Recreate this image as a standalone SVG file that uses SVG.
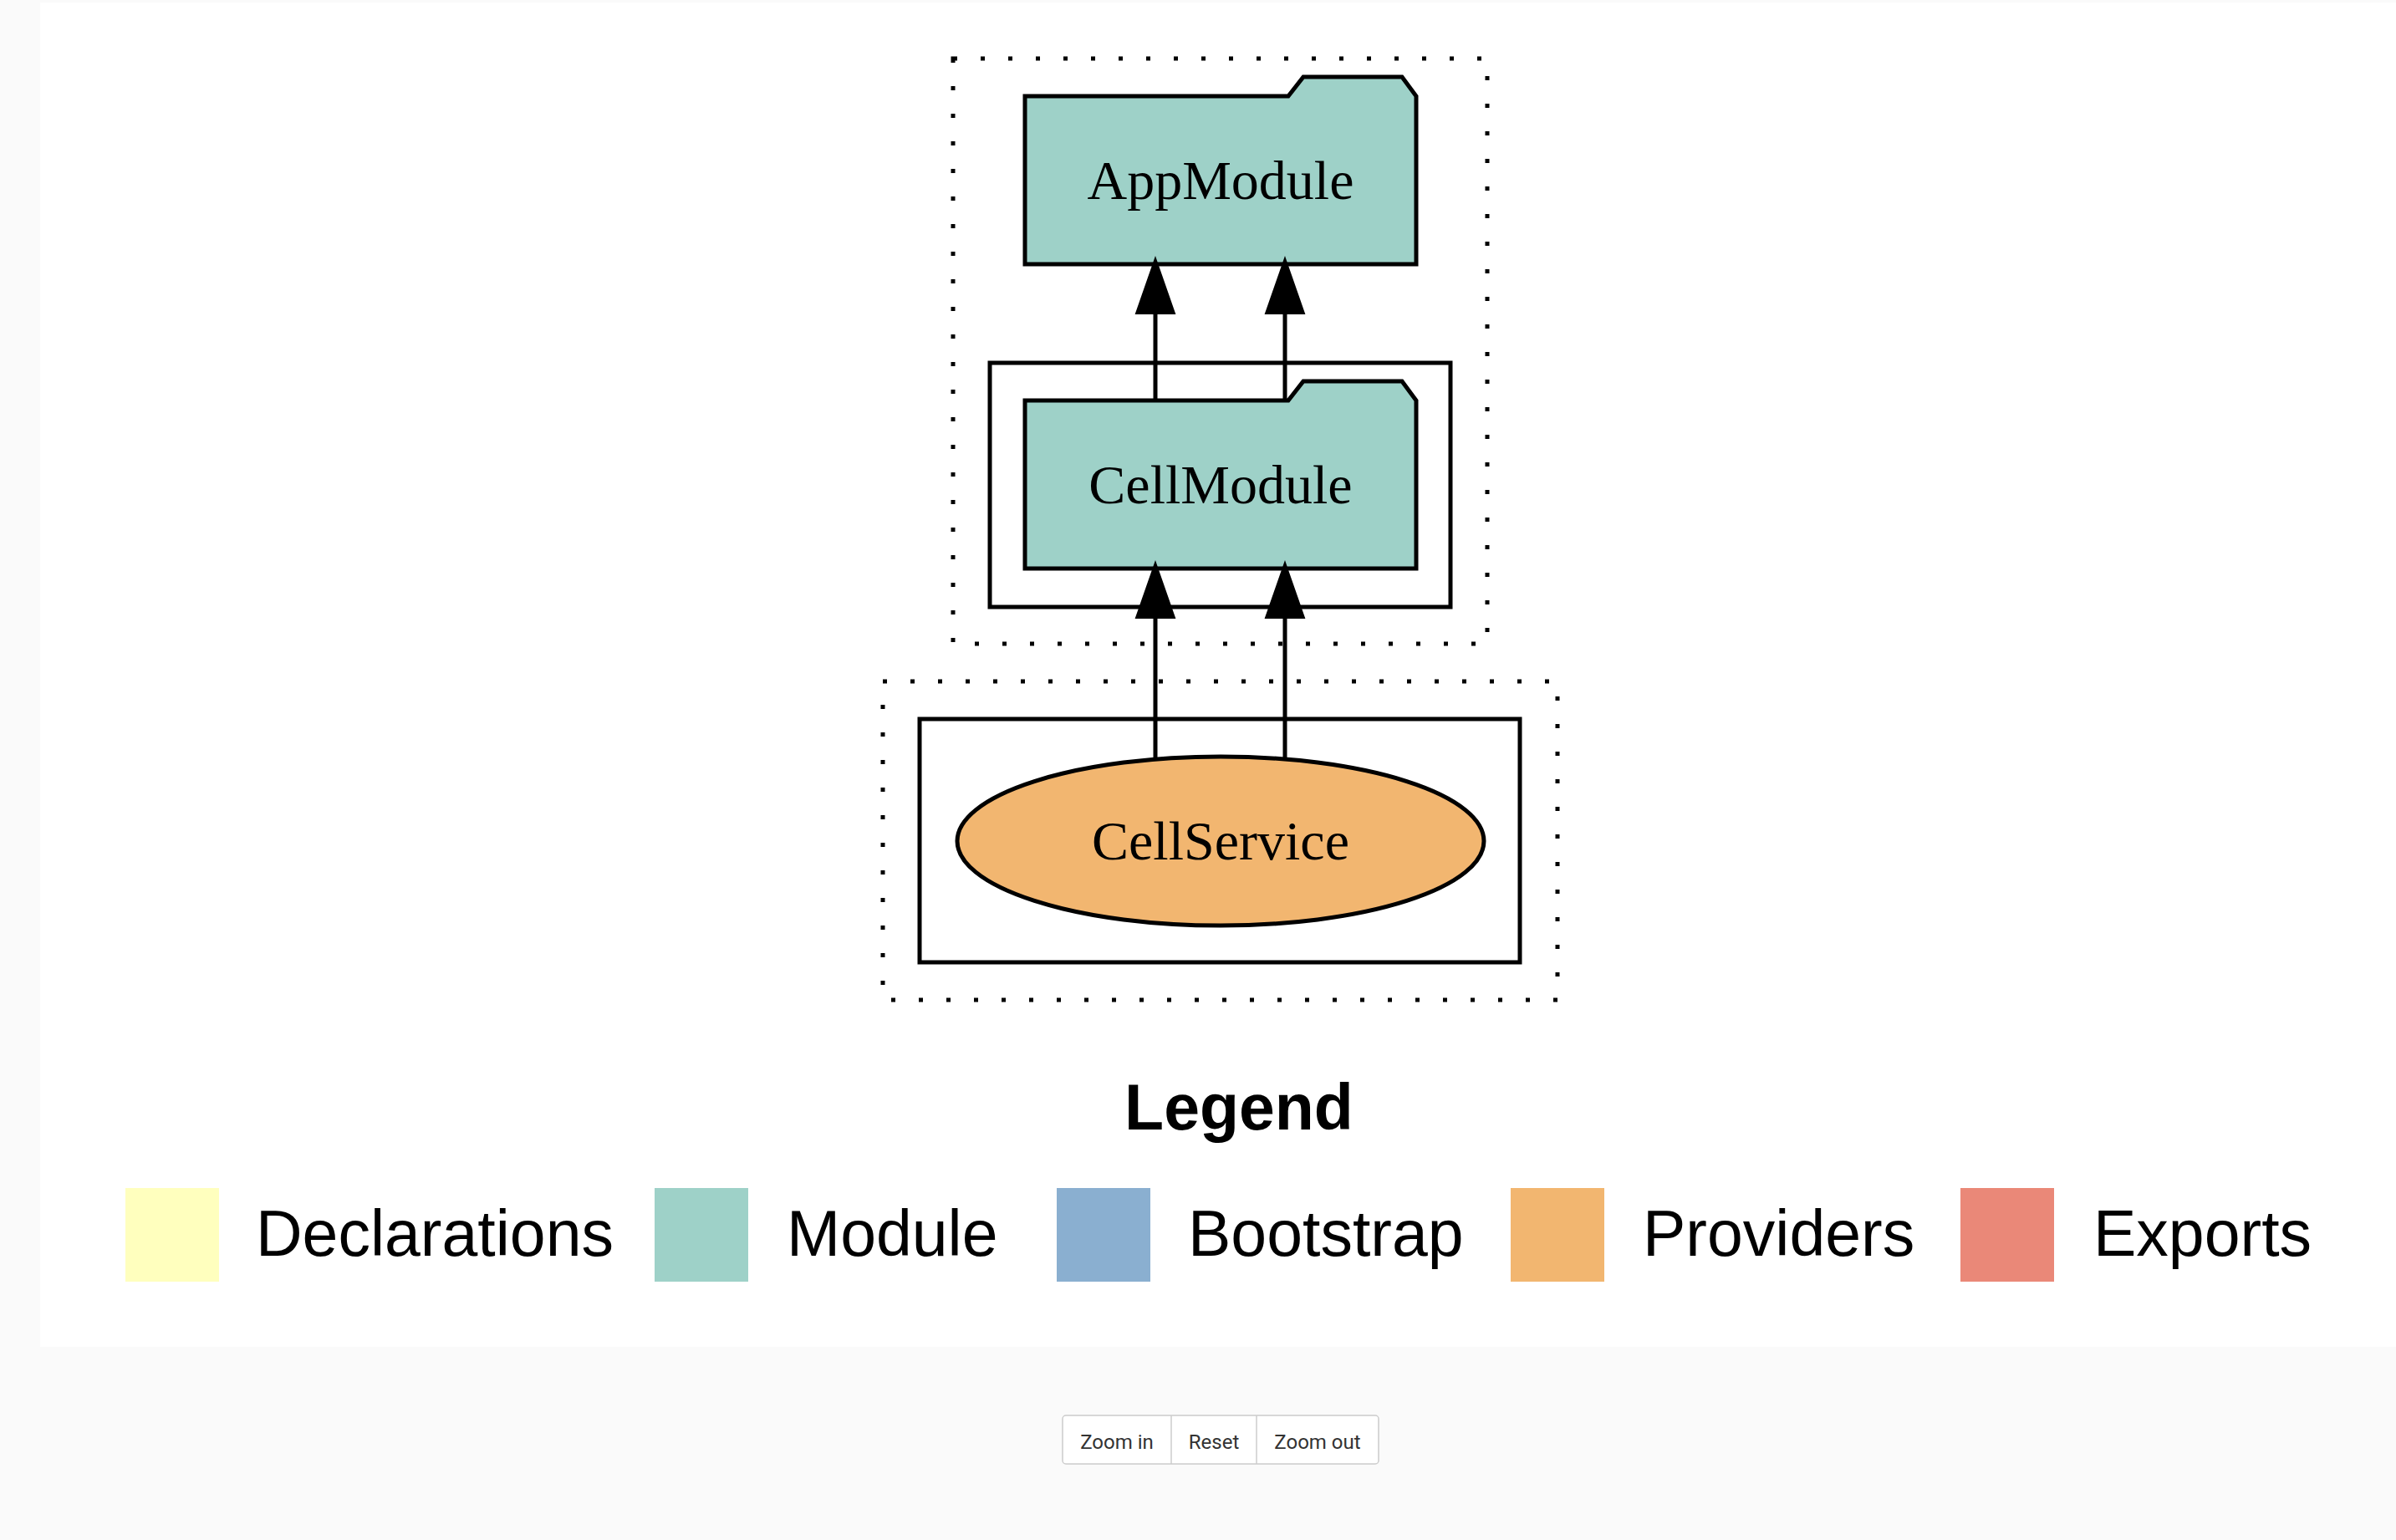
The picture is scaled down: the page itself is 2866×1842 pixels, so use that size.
<svg xmlns="http://www.w3.org/2000/svg" width="2866" height="1842" viewBox="0 0 2866 1842">
<style>
.bg{fill:#fafafa}
.panel{fill:#ffffff}
.cl-dot{fill:none;stroke:#000;stroke-width:5;stroke-dasharray:5 28}
.cl-solid{fill:none;stroke:#000;stroke-width:5}
.module{fill:#9ed1c8;stroke:#000;stroke-width:5;stroke-linejoin:miter}
.provider{fill:#f2b670;stroke:#000;stroke-width:5}
.lbl{font-family:"Liberation Serif","Times New Roman",serif;font-size:66px;fill:#000;text-anchor:middle}
.edge{stroke:#000;stroke-width:5;fill:none}
.head{fill:#000;stroke:#000;stroke-width:2}
.lg-title{font-family:"Liberation Sans",Arial,sans-serif;font-weight:bold;font-size:77px;text-anchor:middle;fill:#000}
.lg-text{font-family:"Liberation Sans",Arial,sans-serif;font-size:77px;fill:#000}
.btn{font-family:Roboto,"Liberation Sans",sans-serif;font-size:24px;fill:#333;text-anchor:middle}
</style>
<rect class="bg" x="0" y="0" width="2866" height="1842"/>
<rect class="panel" x="48" y="3" width="2818" height="1608"/>

<g id="clusters">
<rect class="cl-dot" x="1140" y="70" width="639" height="700"/>
<rect class="cl-solid" x="1184" y="434" width="551" height="292"/>
<rect class="cl-dot" x="1056" y="815" width="807" height="381"/>
<rect class="cl-solid" x="1100" y="860" width="718" height="291"/>
</g>

<g id="node-AppModule">
<path class="module" d="M1226,115 L1541,115 L1559,92 L1677,92 L1694,115 L1694,316 L1226,316 Z"/>
<text class="lbl" x="1460" y="238">AppModule</text>
</g>

<g id="node-CellModule">
<path class="module" d="M1226,479 L1541,479 L1559,456 L1677,456 L1694,479 L1694,680 L1226,680 Z"/>
<text class="lbl" x="1460" y="602">CellModule</text>
</g>

<g id="node-CellService">
<ellipse class="provider" cx="1460" cy="1006" rx="315" ry="101"/>
<text class="lbl" x="1460" y="1028">CellService</text>
</g>

<g id="edges">
<line class="edge" x1="1382" y1="479" x2="1382" y2="372"/>
<polygon class="head" points="1382,309 1405,375 1359,375"/>
<line class="edge" x1="1537" y1="479" x2="1537" y2="372"/>
<polygon class="head" points="1537,309 1560,375 1514,375"/>
<line class="edge" x1="1382" y1="908" x2="1382" y2="736"/>
<polygon class="head" points="1382,673 1405,739 1359,739"/>
<line class="edge" x1="1537" y1="908" x2="1537" y2="736"/>
<polygon class="head" points="1537,673 1560,739 1514,739"/>
</g>

<g id="legend">
<text class="lg-title" x="1482" y="1351">Legend</text>
<rect x="150" y="1421" width="112" height="112" fill="#ffffbe"/>
<text class="lg-text" x="306" y="1502">Declarations</text>
<rect x="783" y="1421" width="112" height="112" fill="#9ed1c8"/>
<text class="lg-text" x="941" y="1502">Module</text>
<rect x="1264" y="1421" width="112" height="112" fill="#8aafd0"/>
<text class="lg-text" x="1421" y="1502">Bootstrap</text>
<rect x="1807" y="1421" width="112" height="112" fill="#f2b670"/>
<text class="lg-text" x="1965" y="1502">Providers</text>
<rect x="2345" y="1421" width="112" height="112" fill="#ea8878"/>
<text class="lg-text" x="2504" y="1502">Exports</text>
</g>

<g id="zoom-buttons">
<rect x="1271" y="1693" width="378" height="58" rx="4" fill="#fff" stroke="#ccc" stroke-width="1.5"/>
<line x1="1401" y1="1693" x2="1401" y2="1751" stroke="#ccc" stroke-width="1.5"/>
<line x1="1503" y1="1693" x2="1503" y2="1751" stroke="#ccc" stroke-width="1.5"/>
<text class="btn" x="1336" y="1733">Zoom in</text>
<text class="btn" x="1452" y="1733">Reset</text>
<text class="btn" x="1576" y="1733">Zoom out</text>
</g>
</svg>
